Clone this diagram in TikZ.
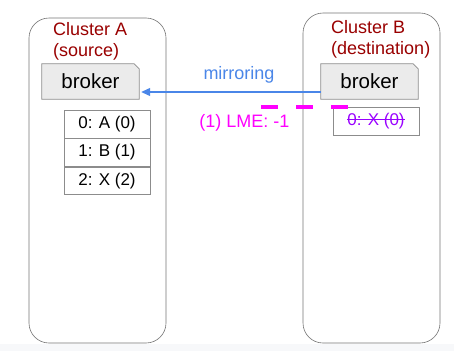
\documentclass[tikz,border=0pt]{standalone}
\usepackage{fontspec}
\setmainfont{Liberation Sans}
\usetikzlibrary{positioning,backgrounds,arrows.meta}
\definecolor{clusterred}{HTML}{990000}
\definecolor{mirrorblue}{HTML}{4A86E8}
\definecolor{lmemagenta}{HTML}{FF00FF}
\definecolor{gonepurple}{HTML}{9900FF}
\definecolor{brokerfill}{HTML}{EBEBEB}
\definecolor{stripgray}{HTML}{F7F8FA}
\begin{document}
\begin{tikzpicture}[x=1pt,y=-1pt,
  cluster/.style={draw=black!55, line width=0.6pt, rounded corners=20pt, minimum width=137pt},
  clabel/.style={text=clusterred, font=\fontsize{18}{21}\selectfont, align=left, anchor=west, inner sep=0pt},
  broker/.style={minimum width=97pt, minimum height=35pt, inner sep=0pt, font=\fontsize{20.5}{24}\selectfont},
  fold/.style={draw=black!45, fill=brokerfill, line width=0.7pt},
  part/.style={draw=black!45, line width=0.7pt, minimum width=86pt, minimum height=27.7pt, inner sep=0pt, font=\fontsize{17}{20}\selectfont},
  mirror/.style={draw=mirrorblue, line width=1.2pt, -{Triangle[length=9pt,width=8pt]}}]
\useasboundingbox (0,0) rectangle (454,351);
\fill[stripgray] (0,343.5) rectangle (454,351);
% clusters
\node[cluster, minimum height=325pt] (clusterA) at (97.5,180.5) {};
\node[cluster, minimum height=330pt] (clusterB) at (371.5,178) {};
\node[clabel] (labelA) at (53,41.5) {Cluster A\\(source)};
\node[clabel] (labelB) at (331,39.5) {Cluster B\\(destination)};
% brokers
\node[broker] (brokerA) at (90.5,81.5) {broker};
\node[broker] (brokerB) at (369.5,81.5) {broker};
\begin{scope}[on background layer]
\foreach \b in {brokerA,brokerB}
  \draw[fold] (\b.south west) |- ([xshift=-5pt]\b.north east) -- ([yshift=-5pt]\b.north east) |- cycle;
\end{scope}
% partitions
\node[part] (pA0) at (107,124) {0: A (0)};
\node[part, below=0pt of pA0] (pA1) {1: B (1)};
\node[part, below=0pt of pA1] (pA2) {2: X (2)};
\node[part] (pB0) at (376,121.5) {};
\node[text=gonepurple, inner sep=0pt, font=\fontsize{17}{20}\selectfont] (goneX) at (pB0) {0: X (0)};
\draw[gonepurple, line width=1.1pt] ([yshift=6pt]goneX.base west) -- ([yshift=6pt]goneX.base east);
% mirroring
\draw[mirror] ([yshift=-10.5pt]brokerB.west) -- ([yshift=-10.5pt,xshift=2pt]brokerA.east);
\node[text=mirrorblue, font=\fontsize{18}{21}\selectfont] (mirrorlabel) at (239,75) {mirroring};
\coordinate (lmeL) at (261,106.5);
\coordinate (lmeR) at (348,106.5);
\draw[lmemagenta, line width=4pt, dash pattern=on 17pt off 18pt] (lmeL) -- (lmeR);
\node[text=lmemagenta, font=\fontsize{18}{21}\selectfont] (lmelabel) at (244.5,123) {(1) LME: -1};
\end{tikzpicture}
\end{document}
